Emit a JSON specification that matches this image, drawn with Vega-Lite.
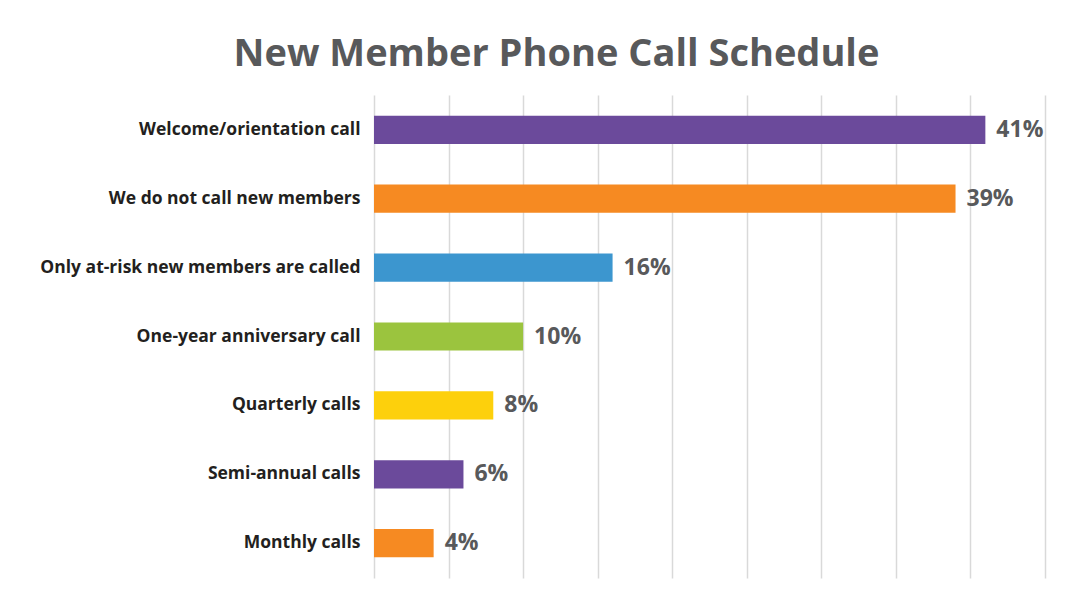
{
  "$schema": "https://vega.github.io/schema/vega-lite/v6.json",
  "width": 671,
  "height": 483,
  "autosize": {"type": "none"},
  "padding": {"left": 374, "top": 95, "right": 33, "bottom": 25},
  "background": "white",
  "title": {
    "text": "New Member Phone Call Schedule",
    "font": "Open Sans",
    "fontSize": 38,
    "fontWeight": "bold",
    "color": "#58595B",
    "anchor": "middle",
    "frame": "group",
    "dx": -153,
    "offset": 21
  },
  "data": {
    "values": [
      {"category": "Welcome/orientation call", "value": 0.41, "color": "#6B4A9B"},
      {"category": "We do not call new members", "value": 0.39, "color": "#F68A22"},
      {"category": "Only at-risk new members are called", "value": 0.16, "color": "#3C96CF"},
      {"category": "One-year anniversary call", "value": 0.10, "color": "#9BC43E"},
      {"category": "Quarterly calls", "value": 0.08, "color": "#FDD00C"},
      {"category": "Semi-annual calls", "value": 0.06, "color": "#6B4A9B"},
      {"category": "Monthly calls", "value": 0.04, "color": "#F68A22"}
    ]
  },
  "encoding": {
    "y": {
      "field": "category",
      "type": "nominal",
      "sort": null,
      "scale": {"paddingInner": 0.59, "paddingOuter": 0.3},
      "axis": {
        "title": null,
        "ticks": false,
        "domain": false,
        "labelPadding": 14,
        "labelFont": "Open Sans",
        "labelFontSize": 17.5,
        "labelFontWeight": "bold",
        "labelColor": "#231F20",
        "labelLimit": 400
      }
    },
    "x": {
      "field": "value",
      "type": "quantitative",
      "scale": {"domain": [0, 0.45]},
      "axis": {
        "title": null,
        "labels": false,
        "ticks": false,
        "domain": false,
        "values": [0, 0.05, 0.1, 0.15, 0.2, 0.25, 0.3, 0.35, 0.4, 0.45],
        "grid": true,
        "gridColor": "#D9D9D9",
        "gridWidth": 1.5
      }
    }
  },
  "layer": [
    {
      "mark": {"type": "bar"},
      "encoding": {
        "color": {"field": "color", "type": "nominal", "scale": null}
      }
    },
    {
      "mark": {
        "type": "text",
        "align": "left",
        "baseline": "middle",
        "dx": 11,
        "font": "Open Sans",
        "fontSize": 23,
        "fontWeight": "bold",
        "color": "#58595B"
      },
      "encoding": {
        "text": {"field": "value", "type": "quantitative", "format": ".0%"}
      }
    }
  ],
  "config": {"view": {"stroke": null}}
}
